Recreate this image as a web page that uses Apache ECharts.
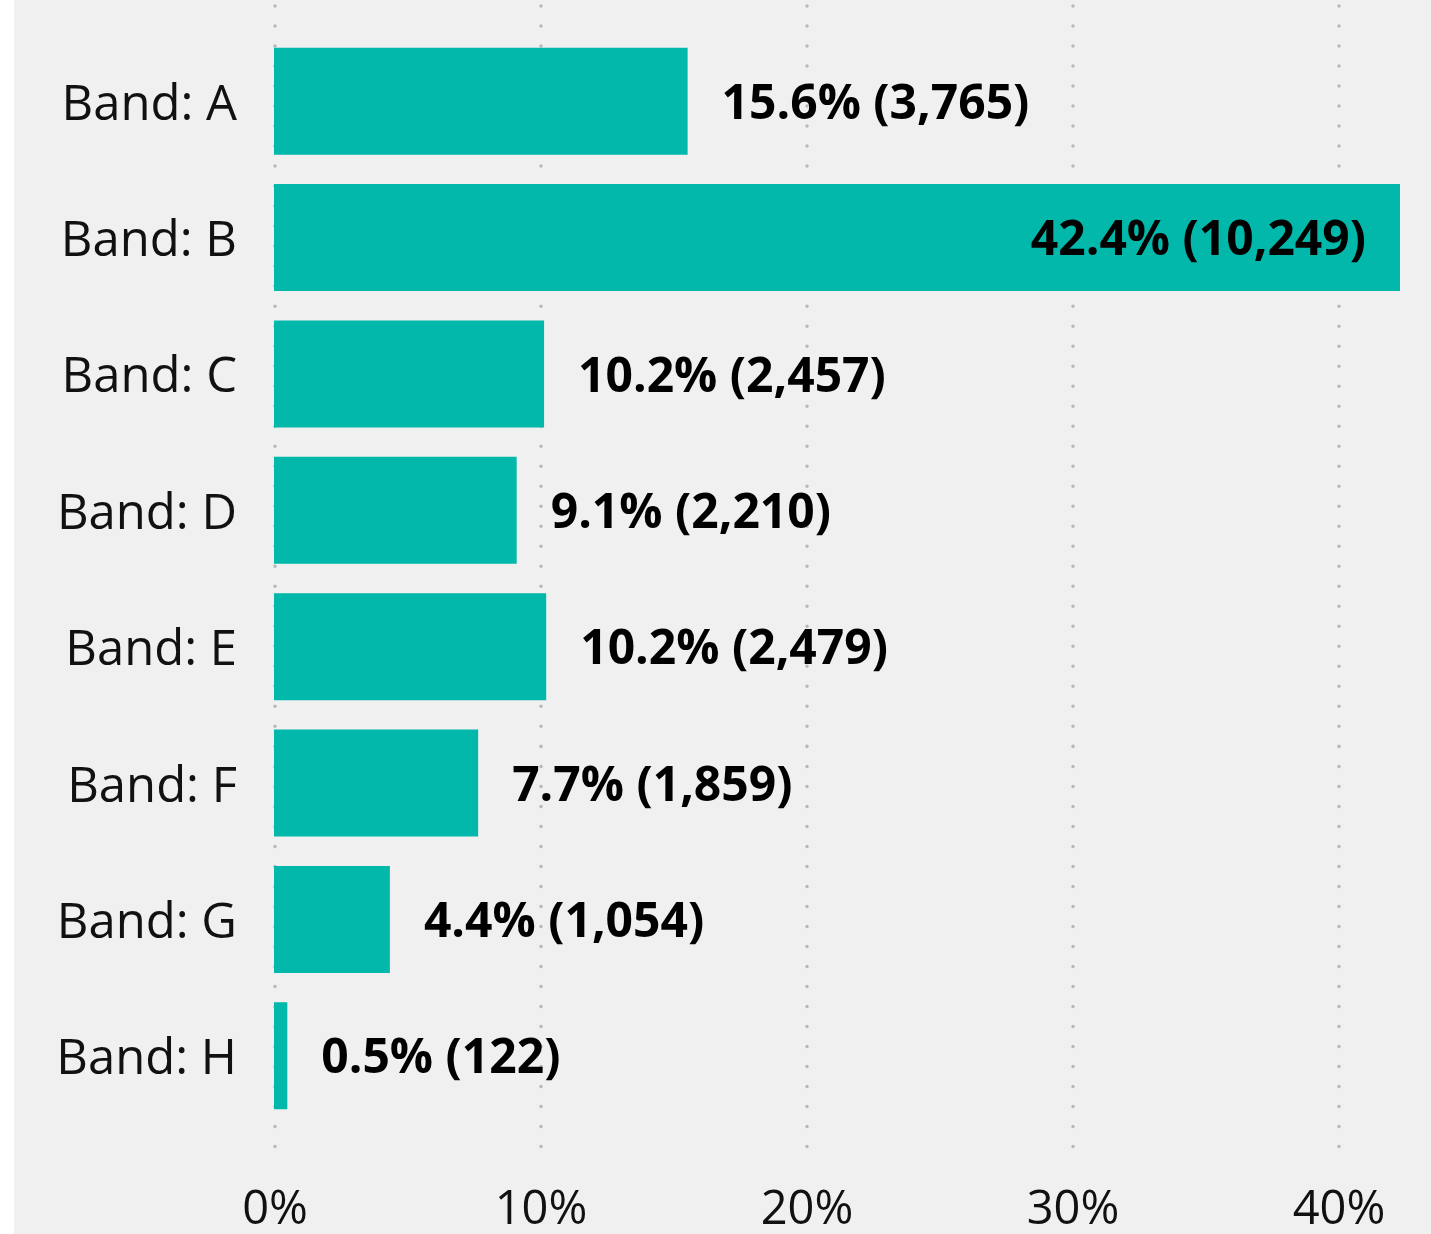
<!DOCTYPE html>
<html>
<head>
<meta charset="utf-8">
<script src="https://cdn.jsdelivr.net/npm/echarts@6/dist/echarts.min.js"></script>
<style>
html,body{margin:0;padding:0;background:#fff;}
#chart{width:1431px;height:1234px;}
</style>
</head>
<body>
<div id="chart"></div>
<script>
const categories = ['Band: A','Band: B','Band: C','Band: D','Band: E','Band: F','Band: G','Band: H'];
const percentValues = [15.56, 42.36, 10.16, 9.13, 10.24, 7.68, 4.36, 0.50];
const countValues = [3765, 10249, 2457, 2210, 2479, 1859, 1054, 122];
const tickValues = [0, 10, 20, 30, 40];

const FONT = '"Open Sans", "Noto Sans", sans-serif';
const chart = echarts.init(document.getElementById('chart'), null, {renderer: 'canvas'});

const option = {
  backgroundColor: '#f0f0f0',
  animation: false,
  graphic: [{
    type: 'rect', left: 0, top: 0, z: 100,
    shape: {width: 14, height: 1234},
    style: {fill: '#ffffff'}
  }],
  grid: [
    {left: 275, right: 92, top: 6, bottom: 68},
    {left: 274, right: 31, top: 33, bottom: 110}
  ],
  xAxis: [
    {
      gridIndex: 0, type: 'value',
      min: tickValues[0], max: tickValues[tickValues.length - 1], interval: 10,
      axisLine: {show: false}, axisTick: {show: false},
      axisLabel: {
        formatter: '{value}%', color: '#111', fontFamily: FONT, fontSize: 47, margin: 23
      },
      splitLine: {
        show: true,
        lineStyle: {color: '#b8b8b8', width: 3.5, type: [0.01, 20], cap: 'round'}
      }
    },
    {
      gridIndex: 1, type: 'value', min: 0, max: Math.max(...percentValues),
      show: false, splitLine: {show: false}
    }
  ],
  yAxis: [
    {gridIndex: 0, type: 'value', min: 0, max: 1, show: false},
    {
      gridIndex: 1, type: 'category', data: categories, inverse: true,
      axisLine: {show: false}, axisTick: {show: false},
      axisLabel: {
        margin: 37,
        formatter: v => '{a|' + v + '}',
        rich: {a: {color: '#111', fontFamily: FONT, fontSize: 49, padding: [9, 0, 0, 0]}}
      }
    }
  ],
  series: [{
    type: 'bar',
    xAxisIndex: 1, yAxisIndex: 1,
    barCategoryGap: '21.5%',
    itemStyle: {color: '#01B8AA'},
    data: percentValues.map((v, i) => ({
      value: v,
      label: {position: v > 35 ? 'insideRight' : 'right'}
    })),
    label: {
      show: true,
      distance: 34,
      offset: [0, 4],
      color: '#000',
      fontFamily: FONT,
      fontWeight: 'bold',
      fontSize: 48,
      formatter: p => percentValues[p.dataIndex].toFixed(1) + '% (' + countValues[p.dataIndex].toLocaleString('en-US') + ')'
    }
  }]
};
chart.setOption(option);
</script>
</body>
</html>
